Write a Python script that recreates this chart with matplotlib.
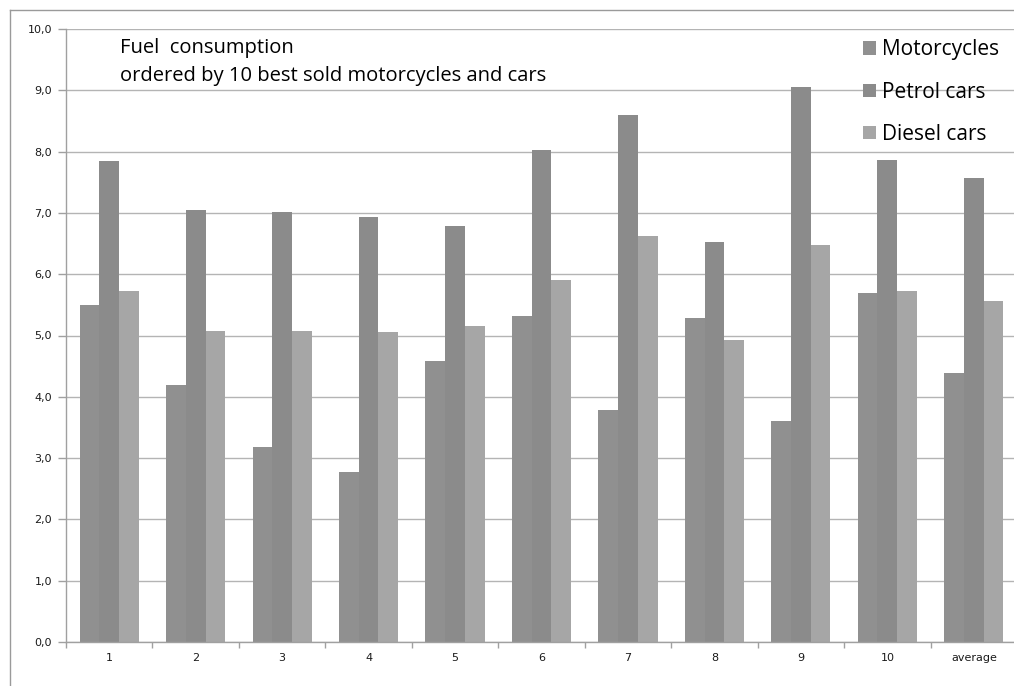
import matplotlib
matplotlib.use('Agg')
import matplotlib.pyplot as plt
from matplotlib.patches import Patch
from matplotlib.lines import Line2D
import numpy as np

# Fuel consumption per category
categories = ['1', '2', '3', '4', '5', '6', '7', '8', '9', '10', 'average']
motorcycles = [5.50, 4.20, 3.18, 2.77, 4.58, 5.32, 3.78, 5.28, 3.60, 5.70, 4.39]
petrol_cars = [7.85, 7.05, 7.02, 6.93, 6.78, 8.03, 8.60, 6.53, 9.05, 7.87, 7.57]
diesel_cars = [5.72, 5.08, 5.08, 5.05, 5.15, 5.90, 6.62, 4.92, 6.48, 5.73, 5.57]
series_names = ['Motorcycles', 'Petrol cars', 'Diesel cars']
y_ticks = [0, 1, 2, 3, 4, 5, 6, 7, 8, 9, 10]

colors = ['#909090', '#8b8b8b', '#a6a6a6']
grid_color = '#b4b4b4'
text_font = ['Open Sans', 'DejaVu Sans']

fig = plt.figure(figsize=(10.14, 6.86), dpi=100, facecolor='white')
ax = fig.add_axes([66 / 1014, 1 - 642 / 686, (1014 - 66) / 1014 + 0.003, (642 - 29) / 686])

# Bars, three per category
x = np.arange(len(categories))
width = 0.228
for i, (vals, name) in enumerate(zip([motorcycles, petrol_cars, diesel_cars], series_names)):
    ax.bar(x + (i - 1) * width, vals, width, color=colors[i], label=name, zorder=2)

ax.set_xlim(-0.5, len(categories) - 0.5)
ax.set_ylim(0, 10)

# Y axis: gridlines, tick labels with comma decimal
ax.set_yticks(y_ticks)
ax.set_yticklabels([('%.1f' % v).replace('.', ',') for v in y_ticks], fontsize=8, color='#1a1a1a')
ax.yaxis.grid(True, color=grid_color, linewidth=1, zorder=0)

# X axis: labels centred, tick marks between categories
ax.set_xticks(x)
ax.set_xticklabels(categories, fontsize=8, color='#1a1a1a')
ax.tick_params(axis='x', length=0, pad=8)
ax.set_xticks(np.arange(len(categories) + 1) - 0.5, minor=True)
ax.tick_params(axis='x', which='minor', length=4, color='#a0a0a0', width=1)
ax.tick_params(axis='y', length=6, color='#a0a0a0', width=1, pad=4)

# Spines
for side in ['top', 'right']:
    ax.spines[side].set_visible(False)
for side in ['left', 'bottom']:
    ax.spines[side].set_color('#a0a0a0')
    ax.spines[side].set_linewidth(1)

# Title text inside the plot
fig.text(120 / 1014, 1 - 48 / 686, 'Fuel  consumption', fontsize=14.5, family=text_font,
         color='#000000', va='center', ha='left')
fig.text(120 / 1014, 1 - 76 / 686, 'ordered by 10 best sold motorcycles and cars',
         fontsize=14.5, family=text_font, color='#000000', va='center', ha='left')

# Legend
handles = [Patch(facecolor=c, edgecolor='none') for c in colors]
ax.legend(handles, series_names, loc='upper left', bbox_to_anchor=(855 / 1014, 1 - 31 / 686),
          bbox_transform=fig.transFigure, frameon=False, prop={'family': text_font, 'size': 15},
          handlelength=0.6, handleheight=0.6, handletextpad=0.3, labelspacing=1.02,
          borderaxespad=0, labelcolor='#000000')

# Outer chart frame (left and top edges)
fig.add_artist(Line2D([10 / 1014, 10 / 1014], [0, 1 - 10 / 686], transform=fig.transFigure,
                      color='#9a9a9a', linewidth=1))
fig.add_artist(Line2D([10 / 1014, 1], [1 - 10 / 686, 1 - 10 / 686], transform=fig.transFigure,
                      color='#9a9a9a', linewidth=1))

fig.savefig('out.png', dpi=100, facecolor='white')
